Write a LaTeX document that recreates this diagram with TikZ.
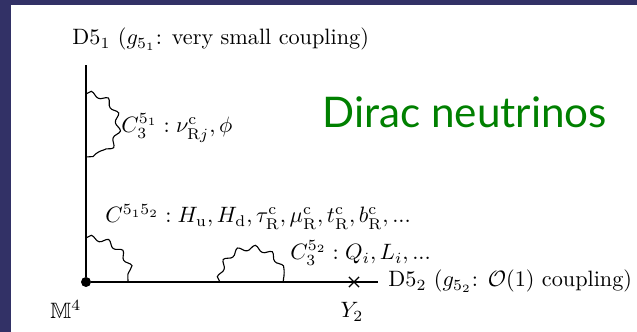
\documentclass[tikz,border=0pt]{standalone}
\usepackage{amsmath}
\usepackage{amssymb}
\usepackage{fontspec}
\usepackage{xcolor}
\usepackage{tikz}
\usetikzlibrary{calc, positioning, decorations.pathmorphing, shapes.misc}
\newfontfamily\handfont{Lato}
\definecolor{framenavy}{RGB}{50,49,102}
\definecolor{diracgreen}{RGB}{0,128,0}
\tikzset{
    branes/.style={
        x=0.45pt, y=-0.45pt,
        brane/.style={line width=0.6pt, black},
        photon/.style={line width=0.5pt, decorate, decoration={snake, amplitude=1.2pt, segment length=7.6pt}},
        label/.style={inner sep=0pt, anchor=base west},
        fixpoint/.style={cross out, draw, line width=0.6pt, minimum size=4pt, inner sep=0pt},
        junction/.style={circle, fill=black, inner sep=0pt, minimum size=4.5pt}
    }
}
\begin{document}
\begin{tikzpicture}[branes]
        % Frame
        \useasboundingbox (0,0) rectangle (637,332);
        \fill[framenavy] (0,0) rectangle (637,332);
        \fill[white] (11,5) rectangle (637,332);

        % Branes
        \node[junction] (m4) at (86,282) {};
        \coordinate (top) at (86,65);
        \coordinate (end) at (378,282);
        \draw[brane] (m4) -- (top);
        \draw[brane] (m4) -- (end);
        \node[fixpoint] (y2) at (354,282) {};

        % Localised fields
        \coordinate (loopa) at (86,94);
        \coordinate (loopb) at (86,238);
        \coordinate (loopc) at (220,282);
        \draw[photon] (loopa) arc[start angle=-90, end angle=90, x radius=28, y radius=31.5];
        \draw[photon] (loopb) arc[start angle=270, end angle=360, x radius=42, y radius=44];
        \draw[photon] (loopc) arc[start angle=180, end angle=360, x radius=31.5, y radius=30];

        % Labels
        \node[label] (d51) at (72,45) {D$5_1$ ($g_{5_1}$: very small coupling)};
        \node[label] (c51) at (121,133) {$C_3^{5_1}:\nu^{\mathrm{c}}_{\mathrm{R}j},\phi$};
        \node[label] (c12) at (105,223) {$C^{5_15_2}:H_{\mathrm{u}},H_{\mathrm{d}},\tau^{\mathrm{c}}_{\mathrm{R}},\mu^{\mathrm{c}}_{\mathrm{R}},t^{\mathrm{c}}_{\mathrm{R}},b^{\mathrm{c}}_{\mathrm{R}},...$};
        \node[label] (c52) at (290,260) {$C_3^{5_2}:Q_i,L_i,...$};
        \node[label] (d52) at (388,287) {D$5_2$ ($g_{5_2}$: $\mathcal{O}(1)$ coupling)};
        \node[label] (m4lab) at (50,319) {$\mathbb{M}^4$};
        \node[inner sep=0pt, anchor=base] (y2lab) at (352,318) {$Y_2$};

        % Title
        \node[label, diracgreen, font=\handfont\fontsize{19}{22}\selectfont] (dirac) at (322,128) {Dirac neutrinos};
\end{tikzpicture}
\end{document}
